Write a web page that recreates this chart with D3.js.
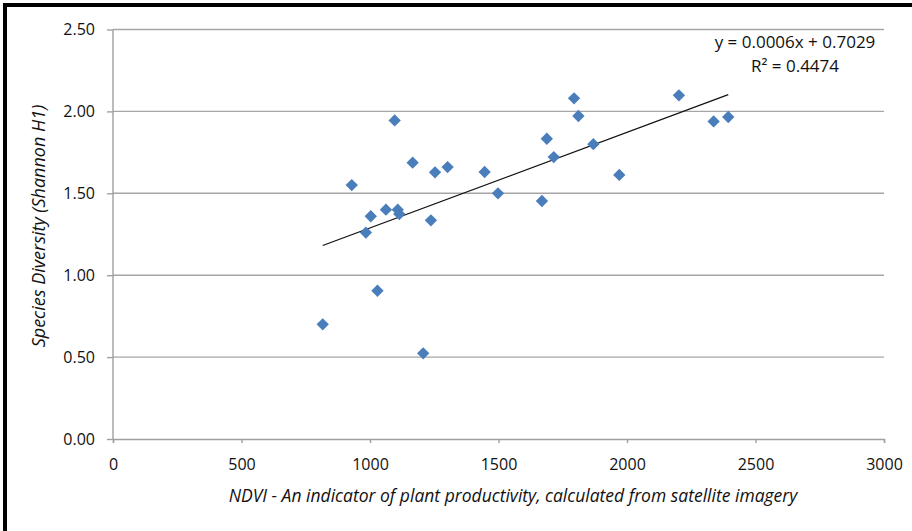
<!DOCTYPE html>
<meta charset="utf-8">
<style>
body { margin: 0; background: #fff; }
text { font-family: "Open Sans", "Noto Sans", sans-serif; fill: #111; }
.grid line { stroke: #a6a6a6; stroke-width: 1.4; }
.axis path, .axis line { stroke: #a0a0a0; stroke-width: 1.4; }
.axis text { font-size: 16px; fill: #111; }
.dot { fill: #4a7ebb; }
.trend { stroke: #111; stroke-width: 1.3; fill: none; }
</style>
<svg width="912" height="531"></svg>
<script src="https://d3js.org/d3.v7.min.js"></script>
<script>
// NDVI values and Shannon diversity
var ndvi = [816, 929, 984, 1003, 1029, 1062, 1096, 1108, 1114, 1166, 1237, 1253, 1302, 1207,
            1446, 1498, 1669, 1688, 1715, 1794, 1811, 1869, 1970, 2202, 2337, 2394];
var diversity = [0.70, 1.55, 1.26, 1.36, 0.905, 1.40, 1.945, 1.40, 1.373, 1.687, 1.335, 1.628, 1.66, 0.523,
                 1.63, 1.50, 1.453, 1.833, 1.721, 2.08, 1.972, 1.80, 1.612, 2.098, 1.939, 1.966];
var xTicks = [0, 500, 1000, 1500, 2000, 2500, 3000];
var yTicks = [0, 0.5, 1, 1.5, 2, 2.5];
var equationLabel = "y = 0.0006x + 0.7029";
var r2Label = "R² = 0.4474";
var xTitle = "NDVI - An indicator of plant productivity, calculated from satellite imagery";
var yTitle = "Species Diversity (Shannon H1)";

var svg = d3.select("svg"),
    margin = {top: 29.5, right: 28, bottom: 92, left: 113},
    width = +svg.attr("width") - margin.left - margin.right,
    height = +svg.attr("height") - margin.top - margin.bottom;

var data = ndvi.map(function(d, i) { return {x: d, y: diversity[i]}; });

var x = d3.scaleLinear().domain([0, 3000]).range([0, width]),
    y = d3.scaleLinear().domain([0, 2.5]).range([height, 0]);

// frame (top and left edges visible in the source)
svg.append("rect").attr("x", 3).attr("y", 3).attr("width", 4).attr("height", 531).attr("fill", "#000");
svg.append("rect").attr("x", 3).attr("y", 3).attr("width", 912).attr("height", 4).attr("fill", "#000");

var g = svg.append("g")
    .attr("transform", "translate(" + margin.left + "," + margin.top + ")");

g.append("g")
    .attr("class", "grid")
  .selectAll("line")
  .data(yTicks.slice(1))
  .enter().append("line")
    .attr("x1", 0)
    .attr("x2", width)
    .attr("y1", function(d) { return y(d); })
    .attr("y2", function(d) { return y(d); });

var xAxis = g.append("g")
    .attr("class", "axis axis--x")
    .attr("transform", "translate(0," + height + ")")
    .call(d3.axisBottom(x).tickValues(xTicks).tickSize(4).tickSizeOuter(4).tickPadding(16).tickFormat(d3.format("d")));

var yAxis = g.append("g")
    .attr("class", "axis axis--y")
    .call(d3.axisLeft(y).tickValues(yTicks).tickSize(6).tickSizeOuter(0).tickPadding(12).tickFormat(d3.format(".2f")));
yAxis.select(".domain").attr("d", "M0," + height + "V0");

// least squares trend line across the data range
var mx = d3.mean(data, function(d) { return d.x; }),
    my = d3.mean(data, function(d) { return d.y; });
var slope = d3.sum(data, function(d) { return (d.x - mx) * (d.y - my); }) /
            d3.sum(data, function(d) { return (d.x - mx) * (d.x - mx); });
var icpt = my - slope * mx;
var ext = d3.extent(data, function(d) { return d.x; });

g.append("path")
    .datum(ext)
    .attr("class", "trend")
    .attr("d", d3.line()
        .x(function(d) { return x(d); })
        .y(function(d) { return y(icpt + slope * d); }));

g.selectAll(".dot")
    .data(data)
  .enter().append("path")
    .attr("class", "dot")
    .attr("d", d3.symbol().type(d3.symbolSquare).size(76))
    .attr("transform", function(d) { return "translate(" + x(d.x) + "," + y(d.y) + ") rotate(45)"; });

svg.append("text")
    .attr("x", 795).attr("y", 48)
    .attr("text-anchor", "middle")
    .style("font-size", "17px")
    .text(equationLabel);

svg.append("text")
    .attr("x", 795).attr("y", 72)
    .attr("text-anchor", "middle")
    .style("font-size", "17px")
    .text(r2Label);

svg.append("text")
    .attr("x", 513).attr("y", 502)
    .attr("text-anchor", "middle")
    .style("font-size", "17.5px")
    .style("font-style", "italic")
    .text(xTitle);

svg.append("text")
    .attr("transform", "translate(45,226) rotate(-90)")
    .attr("text-anchor", "middle")
    .style("font-size", "18px")
    .style("font-style", "italic")
    .text(yTitle);
</script>
